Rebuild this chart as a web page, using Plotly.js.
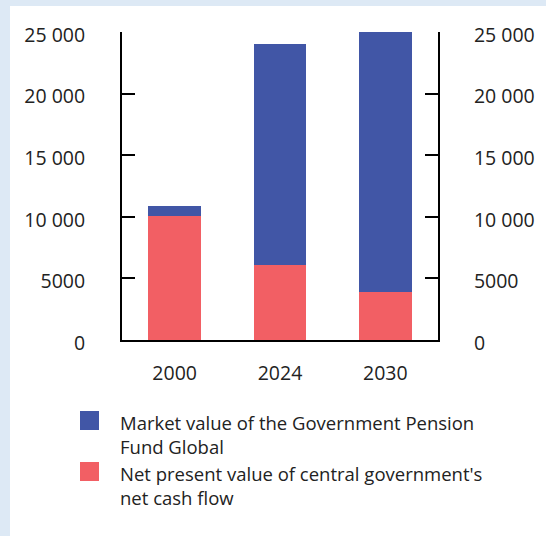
<!DOCTYPE html>
<html>
<head>
<meta charset="utf-8">
<script src="https://cdn.plot.ly/plotly-3.0.1.min.js"></script>
<style>
  html, body { margin: 0; padding: 0; background: #dde9f5; width: 546px; height: 536px; overflow: hidden; }
  #chart { position: absolute; left: 10px; top: 6px; width: 536px; height: 530px; background: #fff; }
</style>
</head>
<body>
<div id="chart"></div>
<script>
const years = ['2000', '2024', '2030'];
const netCashFlow = [10100, 6100, 3900];
const marketValue = [800, 17900, 21100];
const seriesNames = [
  'Market value of the Government Pension<br>Fund Global',
  "Net present value of central government's<br>net cash flow"
];
const seriesColors = ['#4156a6', '#f25f64'];
const tickVals = [0, 5000, 10000, 15000, 20000, 25000];
const tickText = ['0', '5000', '10 000', '15 000', '20 000', '25 000'];

const W = 536, H = 530;
const L = 112, R = 108, T = 26, B = 196;
const pw = W - L - R, ph = H - T - B;
const px = x => (x - L) / pw;
const py = y => (H - B - y) / ph;

const tickFont = { family: 'Open Sans, sans-serif', size: 19.5, color: '#222' };
const legFont = { family: 'Open Sans, sans-serif', size: 18.5, color: '#222' };

const traces = [
  { type: 'bar', x: years, y: netCashFlow, name: seriesNames[1], marker: { color: seriesColors[1] }, width: 0.5, hoverinfo: 'none' },
  { type: 'bar', x: years, y: marketValue, name: seriesNames[0], marker: { color: seriesColors[0] }, width: 0.5, hoverinfo: 'none' },
  { type: 'scatter', x: years, y: [null, null, null], yaxis: 'y2', showlegend: false, hoverinfo: 'none' }
];

const yCommon = {
  range: [0, 25000], tickvals: tickVals, ticktext: tickText,
  ticks: 'inside', ticklen: 13, tickwidth: 2, tickcolor: '#000',
  showline: true, linewidth: 2, linecolor: '#000',
  showgrid: false, zeroline: false, fixedrange: true,
  tickfont: tickFont, ticklabelshift: 3
};

const legendItems = [
  { sq: 405, mid: 428.5 },
  { sq: 456, mid: 479.5 }
];
const shapes = legendItems.map((it, i) => ({
  type: 'rect', xref: 'paper', yref: 'paper',
  x0: px(70), x1: px(89), y0: py(it.sq), y1: py(it.sq + 19),
  fillcolor: seriesColors[i], line: { width: 0 }
}));
const annotations = legendItems.map((it, i) => ({
  xref: 'paper', yref: 'paper', x: px(108), y: py(it.mid),
  xanchor: 'left', yanchor: 'middle', align: 'left', showarrow: false,
  text: seriesNames[i], font: legFont
}));

const layout = {
  width: W, height: H,
  margin: { l: L, r: R, t: T, b: B },
  paper_bgcolor: '#fff', plot_bgcolor: '#fff',
  barmode: 'stack', showlegend: false,
  xaxis: {
    type: 'category', showline: true, linewidth: 2, linecolor: '#000',
    ticks: '', showgrid: false, zeroline: false, fixedrange: true,
    tickfont: tickFont, ticklabelstandoff: 15
  },
  yaxis: Object.assign({}, yCommon, { side: 'left', ticklabelstandoff: 31 }),
  yaxis2: Object.assign({}, yCommon, { side: 'right', overlaying: 'y', ticklabelstandoff: 30 }),
  shapes: shapes,
  annotations: annotations
};

Plotly.newPlot('chart', traces, layout, { staticPlot: true, displayModeBar: false });
</script>
</body>
</html>
